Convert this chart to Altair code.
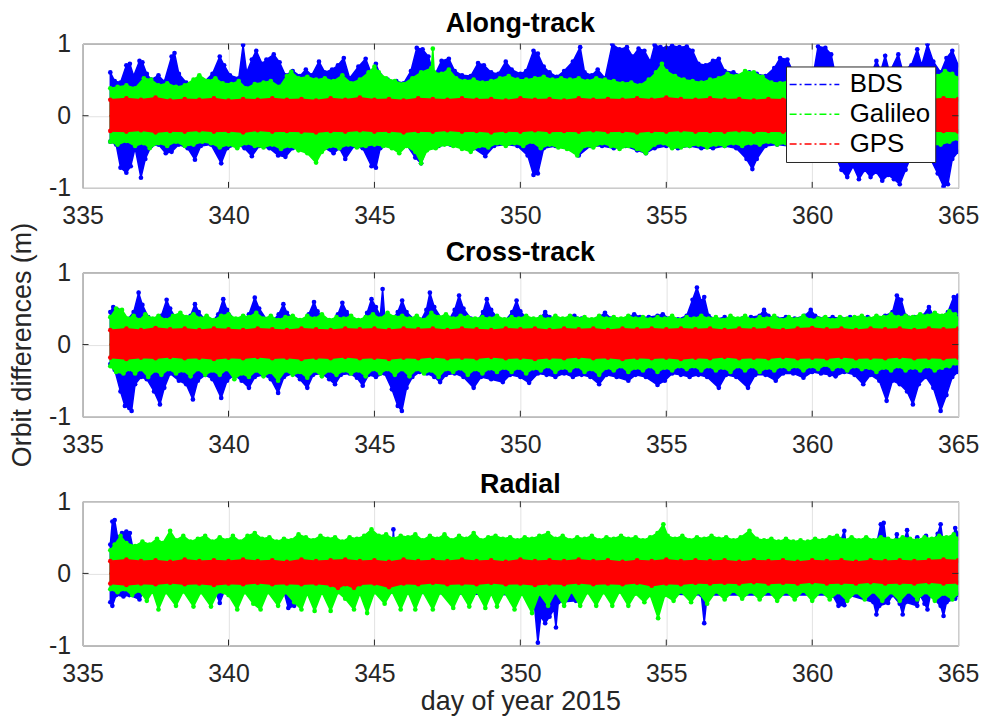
import altair as alt
import pandas as pd

FONT = "Liberation Sans"
SERIES = ["BDS", "Galileo", "GPS"]
COLORS = ["#0000ff", "#00ff00", "#ff0000"]
PANEL_TITLES = ["Along-track", "Cross-track", "Radial"]
X_TICKS = [335, 340, 345, 350, 355, 360, 365]
Y_TICKS = [-1, 0, 1]
Y_TITLE = "Orbit differences (m)"
X_TITLE = "day of year 2015"

# ---------------- Along-track: envelope vertices (day, metres) ----------------
AT_BDS_UP = [(335.95,0.60),(336.10,0.48),(336.30,0.46),(336.50,0.70),(336.62,0.72),(336.75,0.55),(336.95,0.76),(337.05,0.74),(337.20,0.58),(337.35,0.50),(337.60,0.56),(337.80,0.47),(338.05,0.82),(338.15,0.87),(338.30,0.58),(338.55,0.46),(338.85,0.44),(339.15,0.46),(339.45,0.58),(339.70,0.82),(339.85,0.70),(340.05,0.56),(340.35,0.52),(340.50,0.98),(340.62,0.60),(340.80,0.78),(340.95,0.90),(341.15,0.72),(341.30,0.78),(341.55,0.85),(341.75,0.74),(341.95,0.56),(342.20,0.62),(342.45,0.55),(342.65,0.64),(342.85,0.56),(343.10,0.75),(343.30,0.60),(343.55,0.64),(343.75,0.70),(343.95,0.80),(344.15,0.52),(344.45,0.68),(344.70,0.79),(344.90,0.58),(345.05,0.72),(345.20,0.56),(345.45,0.50),(345.75,0.48),(346.00,0.45),(346.25,0.62),(346.45,0.94),(346.65,0.92),(346.85,0.82),(347.05,0.55),(347.30,0.76),(347.55,0.79),(347.75,0.62),(348.00,0.56),(348.30,0.55),(348.55,0.73),(348.75,0.70),(349.00,0.60),(349.25,0.58),(349.50,0.75),(349.70,0.64),(350.00,0.58),(350.20,0.62),(350.45,0.90),(350.60,0.86),(350.80,0.68),(351.00,0.60),(351.25,0.54),(351.50,0.62),(351.80,0.75),(352.05,0.95),(352.20,0.60),(352.45,0.56),(352.65,0.64),(352.90,0.52),(353.15,0.99),(353.40,0.92),(353.65,0.95),(353.85,0.82),(354.05,0.93),(354.25,0.90),(354.45,0.75),(354.60,0.98),(354.80,0.95),(355.00,0.94),(355.20,0.97),(355.45,0.95),(355.70,0.96),(355.90,0.90),(356.10,0.72),(356.35,0.70),(356.60,0.76),(356.80,0.79),(357.00,0.62),(357.30,0.60),(357.60,0.55),(357.85,0.60),(358.10,0.58),(358.40,0.55),(358.70,0.66),(358.90,0.80),(359.15,0.78),(359.40,0.55),(359.70,0.50),(360.00,0.48),(360.20,0.96),(360.45,0.94),(360.65,0.85),(360.80,0.55),(361.20,0.48),(361.60,0.50),(362.00,0.55),(362.20,0.76),(362.35,0.62),(362.50,0.83),(362.65,0.60),(362.95,0.85),(363.10,0.62),(363.40,0.70),(363.60,0.92),(363.75,0.70),(363.95,0.99),(364.15,0.75),(364.40,0.60),(364.60,0.80),(364.80,0.90),(365.00,0.70)]
AT_BDS_LO = [(335.95,-0.36),(336.15,-0.40),(336.30,-0.72),(336.50,-0.79),(336.65,-0.70),(336.80,-0.45),(337.00,-0.86),(337.15,-0.60),(337.35,-0.42),(337.60,-0.40),(337.85,-0.52),(338.05,-0.50),(338.30,-0.40),(338.60,-0.45),(338.85,-0.61),(339.05,-0.42),(339.40,-0.40),(339.75,-0.66),(339.95,-0.45),(340.30,-0.40),(340.55,-0.45),(340.80,-0.56),(341.05,-0.42),(341.40,-0.45),(341.70,-0.55),(341.95,-0.57),(342.20,-0.45),(342.50,-0.42),(342.80,-0.45),(343.20,-0.42),(343.60,-0.52),(343.80,-0.45),(344.00,-0.60),(344.30,-0.42),(344.60,-0.45),(344.90,-0.70),(345.05,-0.72),(345.20,-0.45),(345.55,-0.40),(345.80,-0.45),(346.10,-0.40),(346.40,-0.58),(346.60,-0.66),(346.80,-0.45),(347.20,-0.42),(347.60,-0.40),(348.00,-0.42),(348.40,-0.45),(348.80,-0.56),(349.10,-0.42),(349.50,-0.40),(349.90,-0.42),(350.25,-0.55),(350.45,-0.82),(350.60,-0.80),(350.80,-0.45),(351.20,-0.42),(351.60,-0.45),(352.00,-0.55),(352.40,-0.42),(352.80,-0.42),(353.20,-0.45),(353.60,-0.42),(354.00,-0.48),(354.30,-0.52),(354.60,-0.45),(355.00,-0.42),(355.40,-0.45),(355.80,-0.42),(356.20,-0.45),(356.60,-0.45),(357.00,-0.42),(357.40,-0.45),(357.75,-0.60),(357.95,-0.74),(358.10,-0.60),(358.40,-0.42),(358.80,-0.40),(359.20,-0.42),(359.60,-0.40),(360.00,-0.42),(360.40,-0.45),(360.80,-0.55),(361.00,-0.75),(361.20,-0.85),(361.40,-0.70),(361.60,-0.88),(361.80,-0.75),(362.00,-0.85),(362.20,-0.78),(362.40,-0.90),(362.60,-0.82),(362.80,-0.88),(363.00,-0.95),(363.20,-0.75),(363.40,-0.55),(363.70,-0.50),(364.00,-0.55),(364.30,-0.80),(364.50,-0.98),(364.65,-0.95),(364.80,-0.60),(365.00,-0.50)]
AT_GAL_UP = [(335.95,0.38),(336.20,0.40),(336.50,0.42),(336.80,0.38),(337.10,0.52),(337.35,0.50),(337.60,0.42),(337.90,0.45),(338.20,0.40),(338.50,0.42),(338.80,0.50),(339.00,0.56),(339.30,0.48),(339.55,0.52),(339.80,0.45),(340.10,0.44),(340.35,0.48),(340.60,0.38),(340.90,0.44),(341.20,0.46),(341.45,0.48),(341.75,0.40),(342.00,0.55),(342.15,0.61),(342.40,0.52),(342.70,0.54),(343.00,0.50),(343.30,0.52),(343.60,0.48),(343.90,0.56),(344.20,0.45),(344.50,0.50),(344.80,0.60),(345.00,0.68),(345.15,0.60),(345.40,0.52),(345.70,0.48),(346.00,0.44),(346.30,0.52),(346.60,0.60),(346.95,0.66),(347.00,0.93),(347.05,0.60),(347.30,0.58),(347.55,0.64),(347.80,0.52),(348.10,0.48),(348.40,0.50),(348.70,0.46),(349.00,0.48),(349.30,0.52),(349.60,0.55),(349.90,0.50),(350.20,0.50),(350.50,0.52),(350.80,0.54),(351.10,0.50),(351.40,0.52),(351.70,0.50),(352.00,0.52),(352.30,0.48),(352.60,0.52),(352.90,0.50),(353.20,0.48),(353.50,0.45),(353.80,0.46),(354.10,0.42),(354.40,0.50),(354.65,0.60),(354.85,0.72),(355.00,0.62),(355.30,0.55),(355.60,0.50),(355.90,0.48),(356.20,0.46),(356.50,0.50),(356.80,0.52),(357.10,0.58),(357.40,0.55),(357.70,0.62),(358.00,0.60),(358.30,0.54),(358.60,0.46),(358.90,0.45),(359.20,0.48),(360.00,0.48),(361.00,0.46),(362.00,0.48),(363.00,0.46),(364.00,0.50),(364.30,0.55),(364.55,0.62),(364.80,0.58),(365.00,0.52)]
AT_GAL_LO = [(335.95,-0.36),(336.20,-0.40),(336.50,-0.35),(336.80,-0.42),(337.10,-0.38),(337.30,-0.45),(337.60,-0.38),(337.90,-0.42),(338.20,-0.36),(338.50,-0.42),(338.80,-0.40),(339.10,-0.36),(339.40,-0.38),(339.70,-0.44),(340.00,-0.40),(340.30,-0.45),(340.60,-0.38),(340.90,-0.42),(341.20,-0.44),(341.50,-0.40),(341.80,-0.46),(342.10,-0.42),(342.40,-0.48),(342.70,-0.52),(343.00,-0.65),(343.20,-0.50),(343.50,-0.42),(343.80,-0.45),(344.10,-0.40),(344.40,-0.44),(344.70,-0.42),(345.00,-0.40),(345.30,-0.42),(345.60,-0.45),(345.85,-0.52),(346.10,-0.42),(346.40,-0.50),(346.60,-0.66),(346.80,-0.48),(347.10,-0.45),(347.40,-0.40),(347.70,-0.42),(348.00,-0.46),(348.30,-0.50),(348.60,-0.42),(348.90,-0.44),(349.20,-0.38),(349.50,-0.42),(349.80,-0.38),(350.10,-0.42),(350.40,-0.36),(350.70,-0.45),(351.00,-0.40),(351.30,-0.44),(351.60,-0.46),(351.95,-0.55),(352.20,-0.42),(352.50,-0.44),(352.80,-0.38),(353.10,-0.42),(353.40,-0.46),(353.70,-0.42),(354.00,-0.46),(354.30,-0.52),(354.60,-0.40),(354.90,-0.38),(355.20,-0.45),(355.50,-0.44),(355.80,-0.42),(356.10,-0.40),(356.40,-0.44),(356.70,-0.40),(357.00,-0.42),(357.30,-0.38),(357.60,-0.42),(357.90,-0.38),(358.20,-0.40),(358.50,-0.36),(358.80,-0.40),(359.10,-0.38),(360.00,-0.38),(361.00,-0.40),(362.00,-0.38),(363.00,-0.40),(364.00,-0.40),(364.40,-0.40),(364.70,-0.36),(365.00,-0.32)]
AT_GPS_UP = [(335.95,0.22),(336.5,0.24),(337.0,0.22),(337.5,0.25),(338.0,0.21),(338.5,0.23),(339.0,0.22),(339.5,0.24),(340.0,0.21),(340.5,0.23),(341.0,0.22),(341.5,0.24),(342.0,0.22),(342.5,0.23),(343.0,0.21),(343.5,0.24),(344.0,0.22),(344.5,0.25),(345.0,0.22),(345.5,0.23),(346.0,0.21),(346.5,0.24),(347.0,0.23),(347.5,0.22),(348.0,0.24),(348.5,0.22),(349.0,0.23),(349.5,0.21),(350.0,0.24),(350.5,0.22),(351.0,0.23),(351.5,0.21),(352.0,0.24),(352.5,0.22),(353.0,0.23),(353.5,0.22),(354.0,0.24),(354.5,0.22),(355.0,0.25),(355.5,0.23),(356.0,0.22),(356.5,0.24),(357.0,0.22),(357.5,0.23),(358.0,0.21),(358.5,0.23),(359.0,0.22),(359.5,0.23),(360.0,0.22),(360.5,0.24),(361.0,0.22),(361.5,0.23),(362.0,0.22),(362.5,0.24),(363.0,0.22),(363.5,0.23),(364.0,0.22),(364.5,0.24),(365.0,0.23)]
AT_GPS_LO = [(335.95,-0.21),(336.5,-0.22),(337.0,-0.20),(337.5,-0.23),(338.0,-0.21),(338.5,-0.22),(339.0,-0.20),(339.5,-0.22),(340.0,-0.21),(340.5,-0.23),(341.0,-0.20),(341.5,-0.22),(342.0,-0.21),(342.5,-0.22),(343.0,-0.23),(343.5,-0.21),(344.0,-0.22),(344.5,-0.20),(345.0,-0.22),(345.5,-0.21),(346.0,-0.23),(346.5,-0.21),(347.0,-0.22),(347.5,-0.20),(348.0,-0.22),(348.5,-0.21),(349.0,-0.23),(349.5,-0.21),(350.0,-0.22),(350.5,-0.20),(351.0,-0.22),(351.5,-0.21),(352.0,-0.22),(352.5,-0.20),(353.0,-0.22),(353.5,-0.21),(354.0,-0.23),(354.5,-0.21),(355.0,-0.22),(355.5,-0.20),(356.0,-0.22),(356.5,-0.21),(357.0,-0.22),(357.5,-0.20),(358.0,-0.22),(358.5,-0.21),(359.0,-0.22),(359.5,-0.20),(360.0,-0.22),(360.5,-0.21),(361.0,-0.22),(361.5,-0.20),(362.0,-0.22),(362.5,-0.21),(363.0,-0.22),(363.5,-0.20),(364.0,-0.22),(364.5,-0.21),(365.0,-0.22)]

# ---------------- Cross-track ----------------
CT_BDS_UP = [(335.95,0.45),(336.05,0.52),(336.20,0.48),(336.35,0.40),(336.55,0.35),(336.75,0.45),(336.92,0.72),(337.05,0.55),(337.25,0.38),(337.45,0.32),(337.70,0.40),(337.88,0.62),(338.00,0.50),(338.20,0.36),(338.45,0.30),(338.70,0.40),(338.85,0.56),(338.98,0.45),(339.20,0.34),(339.45,0.32),(339.65,0.42),(339.82,0.63),(339.95,0.48),(340.20,0.34),(340.45,0.30),(340.70,0.42),(340.90,0.65),(341.05,0.50),(341.30,0.35),(341.50,0.32),(341.72,0.42),(341.88,0.56),(342.00,0.44),(342.25,0.34),(342.50,0.32),(342.75,0.42),(342.93,0.59),(343.05,0.46),(343.30,0.34),(343.55,0.32),(343.75,0.42),(343.90,0.58),(344.05,0.45),(344.30,0.34),(344.55,0.32),(344.75,0.44),(344.90,0.63),(345.05,0.52),(345.20,0.40),(345.28,0.77),(345.35,0.40),(345.60,0.34),(345.80,0.45),(345.95,0.61),(346.10,0.45),(346.35,0.35),(346.60,0.34),(346.78,0.48),(346.90,0.72),(347.05,0.52),(347.30,0.36),(347.55,0.34),(347.75,0.48),(347.90,0.68),(348.05,0.50),(348.30,0.36),(348.55,0.34),(348.72,0.45),(348.85,0.63),(349.00,0.48),(349.25,0.35),(349.50,0.34),(349.72,0.45),(349.87,0.61),(350.00,0.46),(350.25,0.35),(350.50,0.34),(350.70,0.38),(350.85,0.45),(351.00,0.38),(351.30,0.35),(351.60,0.34),(351.85,0.40),(352.10,0.36),(352.40,0.34),(352.70,0.38),(352.90,0.44),(353.10,0.36),(353.40,0.34),(353.75,0.38),(353.90,0.42),(354.10,0.38),(354.40,0.38),(354.70,0.40),(354.88,0.42),(355.10,0.36),(355.40,0.35),(355.70,0.40),(355.90,0.62),(356.05,0.79),(356.20,0.60),(356.30,0.66),(356.45,0.40),(356.70,0.35),(357.00,0.38),(357.30,0.35),(357.60,0.36),(357.90,0.38),(358.20,0.40),(358.35,0.48),(358.50,0.40),(358.80,0.36),(359.10,0.38),(359.40,0.36),(359.75,0.40),(359.95,0.48),(360.10,0.40),(360.40,0.36),(360.70,0.38),(361.00,0.36),(361.30,0.38),(361.60,0.36),(361.90,0.38),(362.20,0.36),(362.50,0.40),(362.75,0.45),(362.90,0.68),(363.05,0.62),(363.20,0.40),(363.50,0.38),(363.80,0.40),(364.00,0.52),(364.15,0.40),(364.40,0.38),(364.65,0.45),(364.85,0.66),(365.00,0.68)]
CT_BDS_LO = [(335.95,-0.27),(336.10,-0.35),(336.30,-0.65),(336.45,-0.85),(336.60,-0.88),(336.68,-0.92),(336.80,-0.55),(337.00,-0.45),(337.20,-0.48),(337.45,-0.65),(337.65,-0.83),(337.80,-0.60),(338.00,-0.40),(338.30,-0.50),(338.55,-0.55),(338.78,-0.76),(338.95,-0.50),(339.20,-0.42),(339.45,-0.48),(339.75,-0.74),(339.95,-0.50),(340.20,-0.42),(340.45,-0.50),(340.70,-0.60),(340.90,-0.45),(341.20,-0.42),(341.45,-0.48),(341.70,-0.67),(341.90,-0.45),(342.20,-0.40),(342.45,-0.48),(342.70,-0.60),(342.90,-0.42),(343.20,-0.40),(343.45,-0.48),(343.65,-0.55),(343.85,-0.42),(344.15,-0.40),(344.40,-0.46),(344.60,-0.57),(344.80,-0.42),(345.05,-0.45),(345.35,-0.40),(345.60,-0.62),(345.80,-0.85),(345.94,-0.92),(346.10,-0.60),(346.30,-0.45),(346.55,-0.38),(346.80,-0.40),(347.05,-0.45),(347.25,-0.52),(347.45,-0.42),(347.75,-0.40),(348.05,-0.45),(348.40,-0.60),(348.65,-0.45),(349.00,-0.48),(349.40,-0.52),(349.65,-0.42),(350.00,-0.45),(350.30,-0.53),(350.60,-0.40),(350.90,-0.42),(351.20,-0.45),(351.50,-0.40),(351.80,-0.45),(352.10,-0.42),(352.40,-0.45),(352.70,-0.55),(352.95,-0.42),(353.30,-0.45),(353.70,-0.50),(353.95,-0.42),(354.30,-0.45),(354.70,-0.56),(354.95,-0.50),(355.20,-0.40),(355.50,-0.42),(355.80,-0.45),(356.10,-0.42),(356.40,-0.45),(356.80,-0.60),(357.05,-0.42),(357.40,-0.45),(357.80,-0.60),(358.05,-0.42),(358.40,-0.42),(358.75,-0.50),(359.00,-0.40),(359.35,-0.40),(359.70,-0.46),(360.00,-0.38),(360.30,-0.40),(360.60,-0.42),(360.80,-0.44),(361.10,-0.38),(361.45,-0.42),(361.75,-0.55),(362.00,-0.42),(362.30,-0.50),(362.55,-0.78),(362.75,-0.50),(363.00,-0.55),(363.25,-0.65),(363.45,-0.83),(363.65,-0.55),(363.90,-0.45),(364.15,-0.60),(364.40,-0.92),(364.60,-0.70),(364.80,-0.45),(365.00,-0.38)]
CT_GAL_UP = [(335.95,0.38),(336.15,0.50),(336.35,0.48),(336.55,0.36),(336.75,0.40),(336.95,0.34),(337.15,0.42),(337.40,0.36),(337.60,0.40),(337.85,0.34),(338.10,0.40),(338.35,0.44),(338.55,0.38),(338.80,0.42),(339.05,0.36),(339.25,0.40),(339.50,0.34),(339.75,0.40),(340.00,0.42),(340.25,0.36),(340.50,0.40),(340.70,0.38),(340.95,0.44),(341.20,0.36),(341.45,0.40),(341.70,0.34),(341.95,0.38),(342.20,0.40),(342.45,0.34),(342.70,0.40),(342.95,0.36),(343.20,0.42),(343.45,0.34),(343.70,0.38),(343.95,0.36),(344.20,0.40),(344.45,0.34),(344.70,0.38),(344.95,0.42),(345.20,0.36),(345.45,0.44),(345.70,0.38),(345.95,0.40),(346.20,0.36),(346.45,0.40),(346.70,0.34),(346.95,0.44),(347.20,0.38),(347.45,0.42),(347.70,0.36),(347.95,0.40),(348.20,0.38),(348.45,0.36),(348.70,0.38),(348.95,0.36),(349.20,0.40),(349.45,0.35),(349.70,0.38),(349.95,0.36),(350.20,0.40),(350.45,0.36),(350.70,0.38),(350.95,0.35),(351.20,0.40),(351.45,0.36),(351.70,0.40),(351.95,0.36),(352.20,0.38),(352.45,0.35),(352.70,0.40),(352.95,0.36),(353.20,0.38),(353.45,0.36),(353.70,0.40),(353.95,0.36),(354.20,0.38),(354.45,0.35),(354.70,0.38),(354.95,0.36),(355.20,0.40),(355.45,0.34),(355.70,0.38),(355.95,0.36),(356.20,0.40),(356.45,0.36),(356.70,0.38),(356.95,0.34),(357.20,0.40),(357.45,0.36),(357.70,0.40),(357.95,0.34),(358.20,0.38),(358.45,0.36),(358.70,0.40),(358.95,0.34),(359.20,0.38),(359.45,0.35),(359.70,0.40),(359.95,0.34),(360.20,0.36),(360.45,0.38),(360.70,0.34),(360.95,0.38),(361.20,0.36),(361.45,0.38),(361.70,0.40),(361.95,0.36),(362.20,0.40),(362.45,0.38),(362.70,0.42),(362.95,0.38),(363.20,0.40),(363.45,0.38),(363.70,0.42),(363.95,0.40),(364.20,0.44),(364.45,0.40),(364.70,0.46),(364.90,0.42),(365.00,0.36)]
CT_GAL_LO = [(335.95,-0.30),(336.15,-0.38),(336.40,-0.40),(336.60,-0.34),(336.80,-0.40),(337.00,-0.34),(337.25,-0.45),(337.50,-0.36),(337.70,-0.42),(337.95,-0.34),(338.20,-0.40),(338.45,-0.36),(338.70,-0.44),(338.95,-0.34),(339.20,-0.42),(339.45,-0.36),(339.70,-0.42),(339.95,-0.34),(340.20,-0.48),(340.45,-0.40),(340.70,-0.45),(340.95,-0.36),(341.20,-0.44),(341.45,-0.38),(341.70,-0.50),(341.95,-0.36),(342.20,-0.42),(342.45,-0.38),(342.70,-0.46),(342.95,-0.36),(343.20,-0.44),(343.45,-0.36),(343.70,-0.42),(343.95,-0.36),(344.20,-0.40),(344.45,-0.36),(344.70,-0.44),(344.95,-0.34),(345.20,-0.40),(345.45,-0.34),(345.70,-0.42),(345.95,-0.34),(346.20,-0.44),(346.45,-0.34),(346.70,-0.40),(346.95,-0.36),(347.20,-0.45),(347.45,-0.34),(347.70,-0.38),(347.95,-0.33),(348.20,-0.42),(348.45,-0.34),(348.70,-0.40),(348.95,-0.33),(349.20,-0.38),(349.45,-0.32),(349.70,-0.38),(349.95,-0.32),(350.20,-0.40),(350.45,-0.33),(350.70,-0.36),(350.95,-0.30),(351.20,-0.38),(351.45,-0.32),(351.70,-0.36),(351.95,-0.30),(352.20,-0.38),(352.45,-0.34),(352.70,-0.42),(352.95,-0.32),(353.20,-0.36),(353.45,-0.30),(353.70,-0.38),(353.95,-0.32),(354.20,-0.36),(354.45,-0.30),(354.70,-0.38),(354.95,-0.32),(355.20,-0.36),(355.45,-0.30),(355.70,-0.34),(355.95,-0.30),(356.20,-0.36),(356.45,-0.30),(356.70,-0.36),(356.95,-0.32),(357.20,-0.38),(357.45,-0.30),(357.70,-0.36),(357.95,-0.30),(358.20,-0.38),(358.45,-0.32),(358.70,-0.36),(358.95,-0.30),(359.20,-0.34),(359.45,-0.30),(359.70,-0.36),(359.95,-0.30),(360.20,-0.34),(360.45,-0.28),(360.70,-0.34),(360.95,-0.30),(361.20,-0.36),(361.45,-0.30),(361.70,-0.34),(361.95,-0.32),(362.20,-0.38),(362.45,-0.32),(362.70,-0.36),(362.95,-0.30),(363.20,-0.36),(363.45,-0.32),(363.70,-0.36),(363.95,-0.30),(364.20,-0.36),(364.45,-0.32),(364.70,-0.30),(364.90,-0.26),(365.00,-0.26)]
CT_GPS_UP = [(335.95,0.20),(336.5,0.22),(337.0,0.20),(337.5,0.23),(338.0,0.21),(338.5,0.22),(339.0,0.20),(339.5,0.22),(340.0,0.21),(340.5,0.20),(341.0,0.22),(341.5,0.21),(342.0,0.20),(342.5,0.22),(343.0,0.21),(343.5,0.20),(344.0,0.22),(344.5,0.21),(345.0,0.22),(345.5,0.20),(346.0,0.22),(346.5,0.21),(347.0,0.22),(347.5,0.20),(348.0,0.22),(348.5,0.21),(349.0,0.20),(349.5,0.22),(350.0,0.21),(350.5,0.22),(351.0,0.20),(351.5,0.22),(352.0,0.21),(352.5,0.22),(353.0,0.20),(353.5,0.22),(354.0,0.21),(354.5,0.22),(355.0,0.21),(355.5,0.22),(356.0,0.21),(356.5,0.22),(357.0,0.20),(357.5,0.22),(358.0,0.21),(358.5,0.22),(359.0,0.20),(359.5,0.22),(360.0,0.23),(360.5,0.21),(361.0,0.22),(361.5,0.20),(362.0,0.22),(362.5,0.21),(363.0,0.22),(363.5,0.20),(364.0,0.22),(364.5,0.21),(365.0,0.22)]
CT_GPS_LO = [(335.95,-0.18),(336.5,-0.20),(337.0,-0.18),(337.5,-0.19),(338.0,-0.17),(338.5,-0.19),(339.0,-0.18),(339.5,-0.20),(340.0,-0.18),(340.5,-0.19),(341.0,-0.17),(341.5,-0.19),(342.0,-0.18),(342.5,-0.20),(343.0,-0.18),(343.5,-0.19),(344.0,-0.17),(344.5,-0.19),(345.0,-0.18),(345.5,-0.20),(346.0,-0.18),(346.5,-0.19),(347.0,-0.17),(347.5,-0.19),(348.0,-0.18),(348.5,-0.19),(349.0,-0.17),(349.5,-0.19),(350.0,-0.18),(350.5,-0.20),(351.0,-0.18),(351.5,-0.19),(352.0,-0.17),(352.5,-0.19),(353.0,-0.18),(353.5,-0.20),(354.0,-0.18),(354.5,-0.19),(355.0,-0.18),(355.5,-0.20),(356.0,-0.18),(356.5,-0.19),(357.0,-0.17),(357.5,-0.19),(358.0,-0.18),(358.5,-0.19),(359.0,-0.17),(359.5,-0.19),(360.0,-0.18),(360.5,-0.19),(361.0,-0.17),(361.5,-0.19),(362.0,-0.18),(362.5,-0.19),(363.0,-0.17),(363.5,-0.19),(364.0,-0.18),(364.5,-0.19),(365.0,-0.18)]

# ---------------- Radial ----------------
RD_BDS_UP = [(335.95,0.40),(336.02,0.72),(336.10,0.74),(336.20,0.50),(336.35,0.56),(336.50,0.58),(336.62,0.56),(336.75,0.30),(337.00,0.25),(345.60,0.25),(345.65,0.61),(345.70,0.25),(360.80,0.25),(361.10,0.59),(361.20,0.30),(362.20,0.40),(362.35,0.68),(362.45,0.70),(362.55,0.40),(362.80,0.42),(362.90,0.54),(363.05,0.30),(363.25,0.60),(363.35,0.40),(363.60,0.50),(363.70,0.40),(363.90,0.52),(364.00,0.35),(364.30,0.55),(364.40,0.68),(364.50,0.40),(364.80,0.45),(364.90,0.63),(365.00,0.55)]
RD_BDS_LO = [(335.95,-0.40),(336.02,-0.45),(336.15,-0.30),(336.40,-0.32),(336.60,-0.30),(336.95,-0.36),(337.10,-0.25),(339.55,-0.25),(339.70,-0.41),(339.85,-0.25),(341.90,-0.25),(342.05,-0.48),(342.25,-0.45),(342.40,-0.25),(350.45,-0.30),(350.60,-0.96),(350.70,-0.60),(350.85,-0.69),(351.00,-0.60),(351.15,-0.50),(351.22,-0.75),(351.30,-0.40),(351.90,-0.38),(352.00,-0.25),(356.20,-0.30),(356.30,-0.69),(356.40,-0.30),(360.70,-0.30),(360.90,-0.45),(361.10,-0.44),(361.25,-0.30),(362.10,-0.40),(362.20,-0.57),(362.30,-0.45),(362.60,-0.41),(362.75,-0.30),(363.00,-0.42),(363.10,-0.57),(363.20,-0.40),(363.60,-0.45),(363.70,-0.30),(363.85,-0.42),(363.95,-0.50),(364.05,-0.30),(364.40,-0.45),(364.50,-0.59),(364.60,-0.40),(364.90,-0.35),(365.00,-0.30)]
RD_GAL_UP = [(335.95,0.32),(336.10,0.40),(336.30,0.52),(336.50,0.42),(336.80,0.38),(337.05,0.44),(337.30,0.40),(337.55,0.48),(337.75,0.42),(338.00,0.59),(338.20,0.46),(338.45,0.52),(338.70,0.44),(338.95,0.48),(339.20,0.52),(339.45,0.44),(339.70,0.50),(339.95,0.46),(340.15,0.52),(340.40,0.44),(340.65,0.52),(340.90,0.56),(341.15,0.48),(341.40,0.50),(341.65,0.44),(341.90,0.48),(342.15,0.46),(342.40,0.54),(342.65,0.50),(342.90,0.46),(343.15,0.52),(343.40,0.48),(343.65,0.50),(343.90,0.44),(344.15,0.50),(344.40,0.48),(344.65,0.52),(344.90,0.61),(345.15,0.52),(345.40,0.54),(345.65,0.48),(345.90,0.52),(346.15,0.50),(346.40,0.54),(346.65,0.46),(346.90,0.52),(347.15,0.48),(347.40,0.54),(347.65,0.46),(347.90,0.52),(348.15,0.48),(348.40,0.56),(348.65,0.46),(348.90,0.50),(349.15,0.52),(349.40,0.48),(349.65,0.50),(349.90,0.46),(350.15,0.50),(350.40,0.48),(350.65,0.52),(350.95,0.56),(351.20,0.48),(351.45,0.52),(351.70,0.46),(351.95,0.50),(352.20,0.48),(352.45,0.52),(352.70,0.46),(352.95,0.50),(353.20,0.48),(353.45,0.52),(353.70,0.48),(353.95,0.50),(354.20,0.46),(354.45,0.50),(354.70,0.56),(354.90,0.68),(355.05,0.52),(355.30,0.48),(355.55,0.52),(355.80,0.46),(356.05,0.50),(356.30,0.48),(356.55,0.52),(356.80,0.48),(357.05,0.50),(357.30,0.46),(357.55,0.50),(357.85,0.59),(358.10,0.48),(358.35,0.46),(358.60,0.48),(358.85,0.44),(359.10,0.48),(359.35,0.44),(359.60,0.46),(359.85,0.44),(360.10,0.48),(360.35,0.46),(360.60,0.50),(360.85,0.52),(361.10,0.46),(361.35,0.50),(361.60,0.46),(361.85,0.50),(362.10,0.46),(362.35,0.50),(362.60,0.48),(362.85,0.46),(363.10,0.50),(363.35,0.48),(363.60,0.46),(363.85,0.50),(364.10,0.48),(364.35,0.52),(364.60,0.50),(364.85,0.54),(365.00,0.48)]
RD_GAL_LO = [(335.95,-0.22),(336.20,-0.26),(336.45,-0.22),(336.70,-0.30),(336.95,-0.24),(337.20,-0.38),(337.40,-0.25),(337.60,-0.50),(337.85,-0.26),(338.20,-0.45),(338.45,-0.25),(338.80,-0.46),(339.05,-0.26),(339.40,-0.46),(339.65,-0.25),(340.00,-0.30),(340.30,-0.50),(340.55,-0.26),(340.85,-0.42),(341.10,-0.50),(341.35,-0.26),(341.70,-0.45),(341.95,-0.26),(342.25,-0.40),(342.50,-0.50),(342.70,-0.28),(342.95,-0.52),(343.20,-0.26),(343.50,-0.52),(343.75,-0.26),(344.00,-0.35),(344.30,-0.50),(344.50,-0.28),(344.75,-0.55),(345.00,-0.26),(345.35,-0.42),(345.60,-0.25),(345.90,-0.50),(346.15,-0.26),(346.40,-0.50),(346.65,-0.25),(347.00,-0.50),(347.25,-0.26),(347.70,-0.48),(347.95,-0.26),(348.25,-0.46),(348.50,-0.25),(348.80,-0.48),(349.00,-0.28),(349.20,-0.46),(349.45,-0.26),(349.80,-0.50),(350.05,-0.28),(350.40,-0.55),(350.65,-0.28),(350.95,-0.45),(351.20,-0.26),(351.50,-0.45),(351.75,-0.25),(352.05,-0.45),(352.30,-0.26),(352.60,-0.45),(352.85,-0.26),(353.15,-0.45),(353.40,-0.25),(353.70,-0.45),(353.95,-0.28),(354.25,-0.40),(354.45,-0.30),(354.72,-0.62),(354.95,-0.30),(355.25,-0.38),(355.50,-0.25),(355.85,-0.40),(356.10,-0.26),(356.40,-0.42),(356.70,-0.25),(357.00,-0.36),(357.30,-0.24),(357.60,-0.35),(357.90,-0.25),(358.20,-0.36),(358.50,-0.24),(358.80,-0.38),(359.10,-0.25),(359.40,-0.36),(359.70,-0.24),(360.00,-0.38),(360.30,-0.25),(360.60,-0.36),(360.90,-0.26),(361.20,-0.38),(361.50,-0.26),(361.80,-0.36),(362.10,-0.25),(362.40,-0.38),(362.70,-0.26),(363.00,-0.38),(363.30,-0.25),(363.60,-0.36),(363.90,-0.26),(364.20,-0.38),(364.50,-0.28),(364.80,-0.36),(365.00,-0.28)]
RD_GPS_UP = [(335.95,0.17),(336.5,0.19),(337.0,0.17),(337.5,0.18),(338.0,0.16),(338.5,0.19),(339.0,0.17),(339.5,0.18),(340.0,0.17),(340.5,0.19),(341.0,0.17),(341.5,0.18),(342.0,0.16),(342.5,0.19),(343.0,0.17),(343.5,0.18),(344.0,0.19),(344.5,0.17),(345.0,0.18),(345.5,0.16),(346.0,0.19),(346.5,0.17),(347.0,0.18),(347.5,0.17),(348.0,0.19),(348.5,0.17),(349.0,0.18),(349.5,0.16),(350.0,0.19),(350.5,0.17),(351.0,0.18),(351.5,0.17),(352.0,0.19),(352.5,0.17),(353.0,0.18),(353.5,0.16),(354.0,0.18),(354.5,0.17),(355.0,0.19),(355.5,0.17),(356.0,0.18),(356.5,0.17),(357.0,0.18),(357.5,0.16),(358.0,0.18),(358.5,0.17),(359.0,0.18),(359.5,0.16),(360.0,0.18),(360.5,0.17),(361.0,0.18),(361.5,0.16),(362.0,0.18),(362.5,0.17),(363.0,0.18),(363.5,0.17),(364.0,0.18),(364.5,0.19),(365.0,0.18)]
RD_GPS_LO = [(335.95,-0.14),(336.5,-0.16),(337.0,-0.14),(337.5,-0.15),(338.0,-0.13),(338.5,-0.15),(339.0,-0.14),(339.5,-0.16),(340.0,-0.14),(340.5,-0.15),(341.0,-0.13),(341.5,-0.15),(342.0,-0.14),(342.5,-0.15),(343.0,-0.14),(343.5,-0.16),(343.75,-0.20),(344.0,-0.15),(344.3,-0.20),(344.5,-0.15),(345.0,-0.14),(345.5,-0.19),(346.0,-0.14),(346.5,-0.15),(347.0,-0.13),(347.5,-0.15),(348.0,-0.14),(348.5,-0.15),(349.0,-0.13),(349.5,-0.15),(350.0,-0.14),(350.5,-0.16),(351.0,-0.14),(351.5,-0.15),(352.0,-0.13),(352.5,-0.15),(353.0,-0.14),(353.5,-0.15),(354.0,-0.13),(354.5,-0.17),(355.0,-0.14),(355.5,-0.15),(356.0,-0.13),(356.5,-0.14),(357.0,-0.13),(357.5,-0.14),(358.0,-0.12),(358.5,-0.14),(359.0,-0.13),(359.5,-0.14),(360.0,-0.12),(360.5,-0.14),(361.0,-0.13),(361.5,-0.14),(362.0,-0.12),(362.5,-0.14),(363.0,-0.13),(363.5,-0.14),(364.0,-0.12),(364.5,-0.14),(365.0,-0.13)]

PANEL_DATA = [
    [(AT_BDS_UP, AT_BDS_LO), (AT_GAL_UP, AT_GAL_LO), (AT_GPS_UP, AT_GPS_LO)],
    [(CT_BDS_UP, CT_BDS_LO), (CT_GAL_UP, CT_GAL_LO), (CT_GPS_UP, CT_GPS_LO)],
    [(RD_BDS_UP, RD_BDS_LO), (RD_GAL_UP, RD_GAL_LO), (RD_GPS_UP, RD_GPS_LO)],
]

W, H = 880, 145
INK = "#262626"
TITLE_OFFSETS = [-6, -45, -10]
CSCALE = alt.Scale(domain=SERIES, range=COLORS)
XSCALE = alt.Scale(domain=[335, 365], nice=False, zero=False)
YSCALE = alt.Scale(domain=[-1, 1], nice=False, zero=False)


def make_panel(idx):
    title = PANEL_TITLES[idx]
    xaxis = alt.Axis(values=X_TICKS, grid=True, ticks=False, tickSize=0, domain=False,
                     labelPadding=16, labelFontSize=25, labelFont=FONT, labelColor=INK,
                     labelFlush=False, labelOverlap=False,
                     title=X_TITLE if idx == 2 else None,
                     titleFontSize=27, titleFont=FONT, titleFontWeight="normal",
                     titleColor=INK, titlePadding=2)
    yaxis = alt.Axis(values=Y_TICKS, grid=True, ticks=False, tickSize=0, domain=False,
                     labelPadding=12, labelFontSize=25, labelFont=FONT, labelColor=INK,
                     labelExpr="datum.value < 0 ? '-' + abs(datum.value) : '' + datum.value",
                     title=Y_TITLE if idx == 1 else None,
                     titleFontSize=27, titleFont=FONT, titleFontWeight="normal",
                     titleColor=INK, titlePadding=12)
    X = alt.X("day:Q", scale=XSCALE, axis=xaxis)
    Y = alt.Y("val:Q", scale=YSCALE, axis=yaxis, stack=None)
    legend = None
    if idx == 0:
        legend = alt.Legend(orient="top-right", offset=23, title=None, fillColor="white",
                            strokeColor=INK, padding=5, labelFontSize=26, labelFont=FONT,
                            labelColor="black", symbolType="M-2.3,0H5.7", symbolSize=156,
                            symbolStrokeWidth=1.5, symbolDash=[7, 3, 2, 3], rowPadding=4,
                            labelOffset=33, cornerRadius=0)
    layers = []
    for s, (up, lo) in enumerate(PANEL_DATA[idx]):
        name = SERIES[s]
        rows = [{"day": d, "val": v, "side": "up", "series": name} for d, v in up]
        rows += [{"day": d, "val": v, "side": "lo", "series": name} for d, v in lo]
        df = pd.DataFrame(rows)
        area = alt.Chart(df).mark_area(strokeWidth=1.5, interpolate="linear", fillOpacity=1,
                                       clip=True).encode(
            x=X, y=Y, y2=alt.datum(0),
            fill=alt.Fill("series:N", scale=CSCALE, legend=None),
            stroke=alt.Stroke("series:N", scale=CSCALE, legend=legend),
            detail="side:N")
        dots = alt.Chart(df).mark_circle(size=22, opacity=1, clip=True).encode(
            x=X, y=Y, color=alt.Color("series:N", scale=CSCALE, legend=None))
        layers += [area, dots]
    xt = pd.DataFrame({"day": X_TICKS[1:-1]})
    top_ticks = alt.Chart(xt).mark_rule(color=INK, strokeWidth=1).encode(
        x=X, y=alt.value(0), y2=alt.value(6))
    bot_ticks = alt.Chart(xt).mark_rule(color=INK, strokeWidth=1).encode(
        x=X, y=alt.value(H), y2=alt.value(H - 6))
    yt = pd.DataFrame({"val": [0]})
    left_ticks = alt.Chart(yt).mark_rule(color=INK, strokeWidth=1).encode(
        y=Y, x=alt.value(0), x2=alt.value(6))
    right_ticks = alt.Chart(yt).mark_rule(color=INK, strokeWidth=1).encode(
        y=Y, x=alt.value(W), x2=alt.value(W - 6))
    layers += [top_ticks, bot_ticks, left_ticks, right_ticks]
    return alt.layer(*layers).properties(
        width=W, height=H,
        title=alt.TitleParams(title, fontSize=27, fontWeight="bold", font=FONT,
                              color="black", offset=TITLE_OFFSETS[idx], anchor="middle",
                              frame="group"))


chart = alt.vconcat(make_panel(0), make_panel(1), make_panel(2), spacing=85,
                    bounds="flush").resolve_legend(
    stroke="independent"
).properties(
    padding={"left": 8, "top": 7, "right": 5, "bottom": 0}
).configure_view(stroke=INK, strokeWidth=1).configure_axis(gridColor="#e2e2e2", gridWidth=1)

chart.save("out.html", embed_options={"renderer": "svg", "actions": False})
